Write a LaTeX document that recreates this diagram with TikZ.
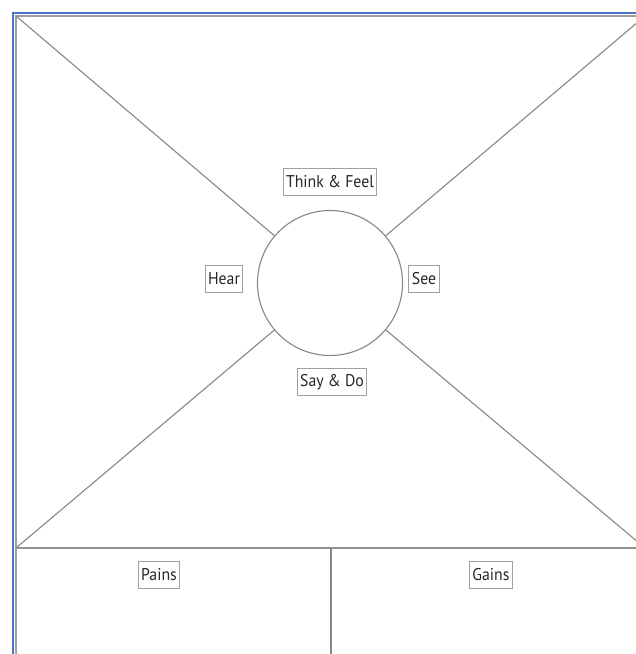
\documentclass[tikz,border=0pt]{standalone}
\usepackage{fontspec}
\setmainfont{PT Sans}[FakeStretch=0.93]
\definecolor{frameblue}{RGB}{75,115,205}
\definecolor{linegray}{RGB}{135,135,135}
\definecolor{boxgray}{RGB}{160,160,160}
\tikzset{
  lbl/.style={draw=boxgray, line width=0.9pt, fill=white, inner xsep=3pt, inner ysep=0pt,
    minimum height=27pt, font=\fontsize{17}{19}\selectfont, text=black!85},
  divline/.style={draw=linegray, line width=1.1pt},
}
\begin{document}
\begin{tikzpicture}[x=1pt,y=-1pt]
\useasboundingbox (0,0) rectangle (636,654);
\fill[white] (0,0) rectangle (636,654);
\begin{scope}
\clip (0,0) rectangle (636,654);
% outer blue border
\draw[frameblue, line width=2pt] (12.5,660) -- (12.5,12.5) -- (640,12.5);
% gray frame
\draw[linegray!80, line width=2pt] (16,660) -- (16,16) -- (650,16);
\coordinate (tl) at (16,16);
\coordinate (tr) at (645,16);
\coordinate (bl) at (16,548);
\coordinate (br) at (645,548);
\coordinate (bm) at (331,548);
\coordinate (bb) at (331,660);
\node[circle, draw=linegray, line width=1.1pt, minimum size=145pt, inner sep=0pt] (c) at (330,283) {};
\draw[divline] (tl) -- (c);
\draw[divline] (tr) -- (c);
\draw[divline] (bl) -- (c);
\draw[divline] (br) -- (c);
\draw[linegray!90, line width=1.6pt] (bl) -- (br);
\draw[divline] (bm) -- (bb);
\end{scope}
\node[lbl] (tf) at (330,182) {Think \& Feel};
\node[lbl] (hear) at (224,279) {Hear};
\node[lbl] (see) at (424,279) {See};
\node[lbl] (sd) at (332,382) {Say \& Do};
\node[lbl] (pains) at (159,575) {Pains};
\node[lbl] (gains) at (491,575) {Gains};
\end{tikzpicture}
\end{document}
